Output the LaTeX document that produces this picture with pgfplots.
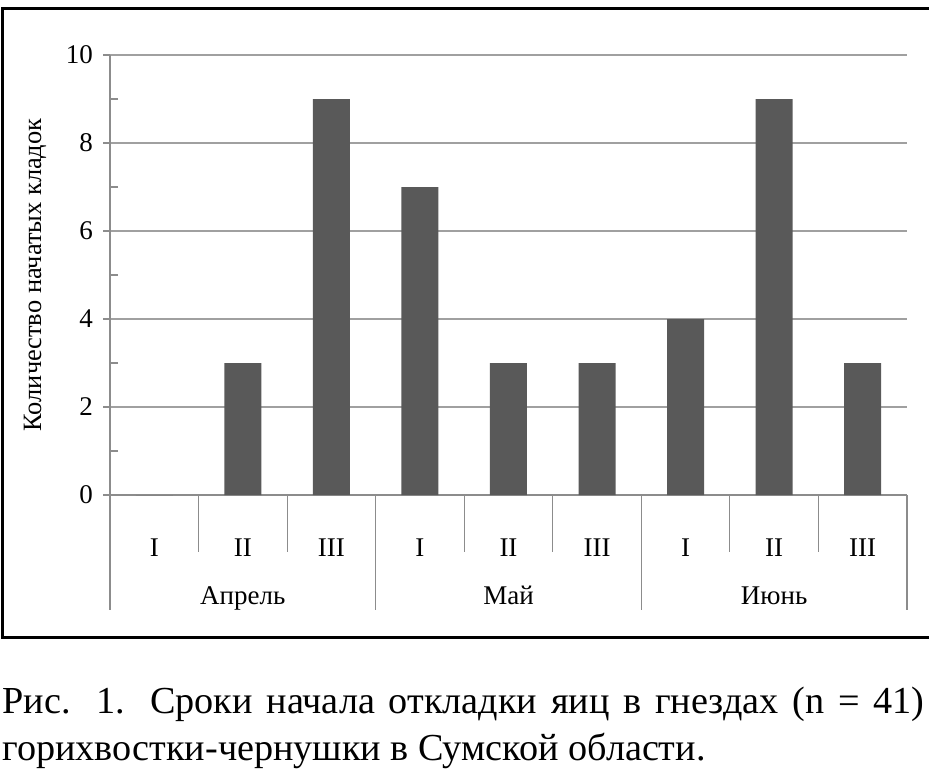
\documentclass[border=0pt]{standalone}
\usepackage{pgfplots}
\pgfplotsset{compat=1.18}
\usepackage{fontspec}
\setmainfont{Liberation Serif}
\definecolor{barfill}{RGB}{89,89,89}
\definecolor{gridgray}{RGB}{160,160,160}
\definecolor{axisgray}{RGB}{140,140,140}
\newcommand{\chartfont}{\fontsize{13.5}{16}\selectfont}
\begin{document}
\begin{tikzpicture}[x=0.5pt,y=0.5pt]
\path[use as bounding box] (0,0) rectangle (929,768);
% frame round the chart (right side is cut off)
\draw[line width=1.5pt] (935,759) -- (2.5,759) -- (2.5,131) -- (935,131);
\begin{axis}[
  at={(55pt,136.5pt)}, anchor=south west,
  scale only axis, width=398.5pt, height=220pt,
  xmin=-0.5, xmax=8.5, ymin=0, ymax=10,
  axis x line*=bottom, axis y line*=left,
  axis line style={axisgray, line width=0.6pt, -},
  ytick={0,2,...,10}, minor ytick={1,3,...,9},
  ymajorgrids, grid style={gridgray, line width=0.6pt},
  tick align=outside, major tick length=3.5pt, minor tick length=-4pt,
  tick style={axisgray, line width=0.6pt},
  xtick={0,...,8}, xticklabels={I,II,III,I,II,III,I,II,III},
  x tick style={draw=none},
  xticklabel style={anchor=base, yshift=-27pt, font=\chartfont},
  yticklabel style={font=\fontsize{13.5}{16}\selectfont, xshift=-1.5pt},
  /pgf/number format/assume math mode=true,
  clip=false,
]
\addplot[ybar, bar width=18.5pt, fill=barfill, draw=none]
  coordinates {(0,0) (1,3) (2,9) (3,7) (4,3) (5,3) (6,4) (7,9) (8,3)};
% category separators below the axis
\pgfplotsinvokeforeach{-0.5,2.5,5.5,8.5}{
  \draw[axisgray, line width=0.6pt] (axis cs:#1,0) -- ++(0pt,-57.5pt);
}
\pgfplotsinvokeforeach{0.5,1.5,3.5,4.5,6.5,7.5}{
  \draw[axisgray, line width=0.6pt] (axis cs:#1,0) -- ++(0pt,-28.5pt);
}
\node[anchor=base, font=\chartfont, yshift=-54.5pt] at (axis cs:1,0) {Апрель};
\node[anchor=base, font=\chartfont, yshift=-54.5pt] at (axis cs:4,0) {Май};
\node[anchor=base, font=\chartfont, yshift=-54.5pt] at (axis cs:7,0) {Июнь};
\end{axis}
\node[rotate=90, font=\fontsize{13.2}{16}\selectfont] at (35,493) {Количество начатых кладок};
% caption
\node[anchor=base west, inner sep=0pt] at (2,55)
  {\fontsize{19.1}{23}\selectfont\makebox[461pt][s]{Рис. 1. Сроки начала откладки яиц в гнездах (n = 41)}};
\node[anchor=base west, inner sep=0pt] at (2,8)
  {\fontsize{19.1}{23}\selectfont горихвостки-чернушки в Сумской области.};
\end{tikzpicture}
\end{document}
